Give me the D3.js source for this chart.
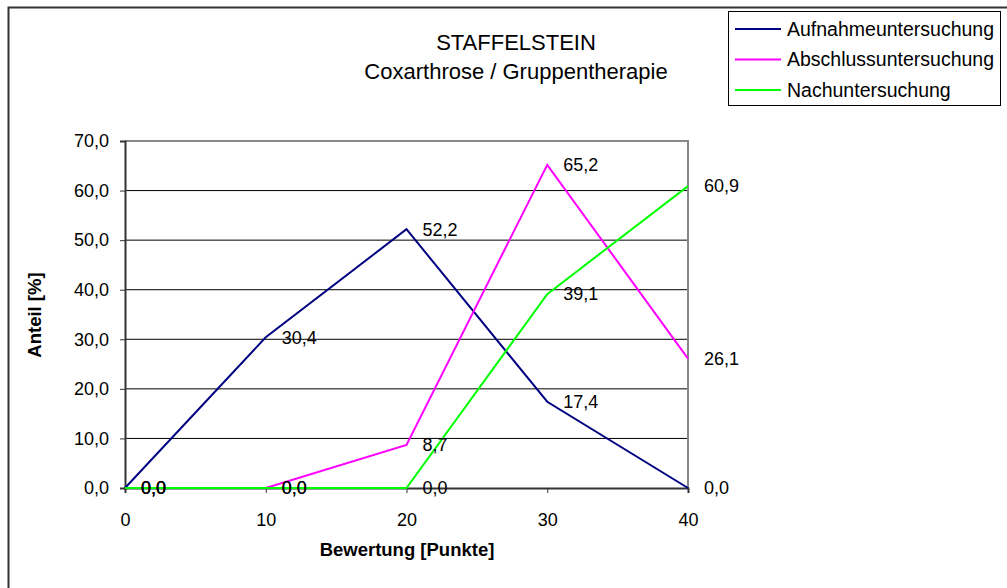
<!DOCTYPE html>
<html><head><meta charset="utf-8">
<script src="https://cdn.jsdelivr.net/npm/d3@7"></script>
<style>body{margin:0;background:#fff}svg{display:block;font-family:"Liberation Sans",Arial,sans-serif}</style>
</head><body><svg id="c" width="1007" height="588"></svg>
<script>
const xValues = [0, 10, 20, 30, 40];
const seriesNames = ["Aufnahmeuntersuchung", "Abschlussuntersuchung", "Nachuntersuchung"];
const aufnahme = [0, 30.4, 52.2, 17.4, 0];
const abschluss = [0, 0, 8.7, 65.2, 26.1];
const nach = [0, 0, 0, 39.1, 60.9];
const seriesColors = ["#000080", "#FF00FF", "#00FF00"];
const yTicks = [0, 10, 20, 30, 40, 50, 60, 70];
const xTicks = [0, 10, 20, 30, 40];
const titleLines = ["STAFFELSTEIN", "Coxarthrose / Gruppentherapie"];

const series = [aufnahme, abschluss, nach].map((v, i) => ({name: seriesNames[i], values: v, color: seriesColors[i]}));
const fmt = v => d3.format(".1f")(v).replace(".", ",");
const FONT = "Liberation Sans, Arial, sans-serif";

const svg = d3.select("#c");
// outer chart border (left & top visible)
svg.append("rect").attr("x", 8.5).attr("y", 7.5).attr("width", 1010).attr("height", 600)
  .attr("fill", "none").attr("stroke", "#333").attr("stroke-width", 2);

const L = 125, R = 688, T = 141, B = 488;
const x = d3.scaleLinear().domain([0, 40]).range([L, R]);
const y = d3.scaleLinear().domain([0, 70]).range([B, T]);

// gridlines
svg.append("g").selectAll("line").data(yTicks.filter(t => t > 0 && t < 70)).join("line")
  .attr("x1", L).attr("x2", R).attr("y1", d => y(d)).attr("y2", d => y(d))
  .attr("stroke", "#000").attr("stroke-width", 1);
// plot frame top/right
svg.append("path").attr("d", `M${L},${T}H${R}V${B}`).attr("fill", "none").attr("stroke", "#888").attr("stroke-width", 2);

// axes
const yAxis = d3.axisLeft(y).tickValues(yTicks).tickFormat(fmt).tickSize(5).tickPadding(11);
const gy = svg.append("g").attr("transform", `translate(${L},0)`).call(yAxis);
gy.select(".domain").attr("stroke", "#333").attr("stroke-width", 2);
gy.selectAll(".tick line").attr("stroke", "#333");
gy.selectAll("text").attr("font-size", 18).attr("fill", "#000").attr("font-family", FONT);

const xAxis = d3.axisBottom(x).tickValues(xTicks).tickFormat(d3.format("d")).tickSize(5).tickPadding(20);
const gx = svg.append("g").attr("transform", `translate(0,${B})`).call(xAxis);
gx.select(".domain").attr("stroke", "#333").attr("stroke-width", 2);
gx.selectAll(".tick line").attr("stroke", "#333");
gx.selectAll("text").attr("font-size", 18).attr("fill", "#000").attr("font-family", FONT);

// lines
const line = d3.line().x((d, i) => x(xValues[i])).y(d => y(d));
series.forEach(s => {
  svg.append("path").attr("d", line(s.values)).attr("fill", "none").attr("stroke", s.color).attr("stroke-width", 2);
});
// data labels
series.forEach(s => {
  svg.append("g").selectAll("text").data(s.values).join("text")
    .attr("x", (d, i) => x(xValues[i]) + 16).attr("y", d => y(d)).attr("dy", "0.35em")
    .attr("font-size", 18).attr("fill", "#000").text(d => fmt(d));
});

// titles
svg.append("g").selectAll("text").data(titleLines).join("text")
  .attr("x", 516).attr("y", (d, i) => 42 + i * 29).attr("dy", "0.35em").attr("text-anchor", "middle")
  .attr("font-size", 22).attr("fill", "#000").text(d => d);
svg.append("text").attr("x", 407).attr("y", 550).attr("dy", "0.35em").attr("text-anchor", "middle")
  .attr("font-size", 18.5).attr("font-weight", "bold").text("Bewertung [Punkte]");
svg.append("text").attr("transform", `translate(35,315) rotate(-90)`).attr("text-anchor", "middle")
  .attr("dy", "0.35em").attr("font-size", 18.5).attr("font-weight", "bold").text("Anteil [%]");

// legend
const lg = svg.append("g");
lg.append("rect").attr("x", 728.5).attr("y", 11.5).attr("width", 272).attr("height", 94)
  .attr("fill", "#fff").attr("stroke", "#000").attr("stroke-width", 1);
const items = lg.selectAll("g").data(series).join("g").attr("transform", (d, i) => `translate(0,${29 + i * 30.5})`);
items.append("line").attr("x1", 735).attr("x2", 781).attr("stroke", d => d.color).attr("stroke-width", 2);
items.append("text").attr("x", 787).attr("dy", "0.35em").attr("font-size", 19.5).text(d => d.name);
</script></body></html>
